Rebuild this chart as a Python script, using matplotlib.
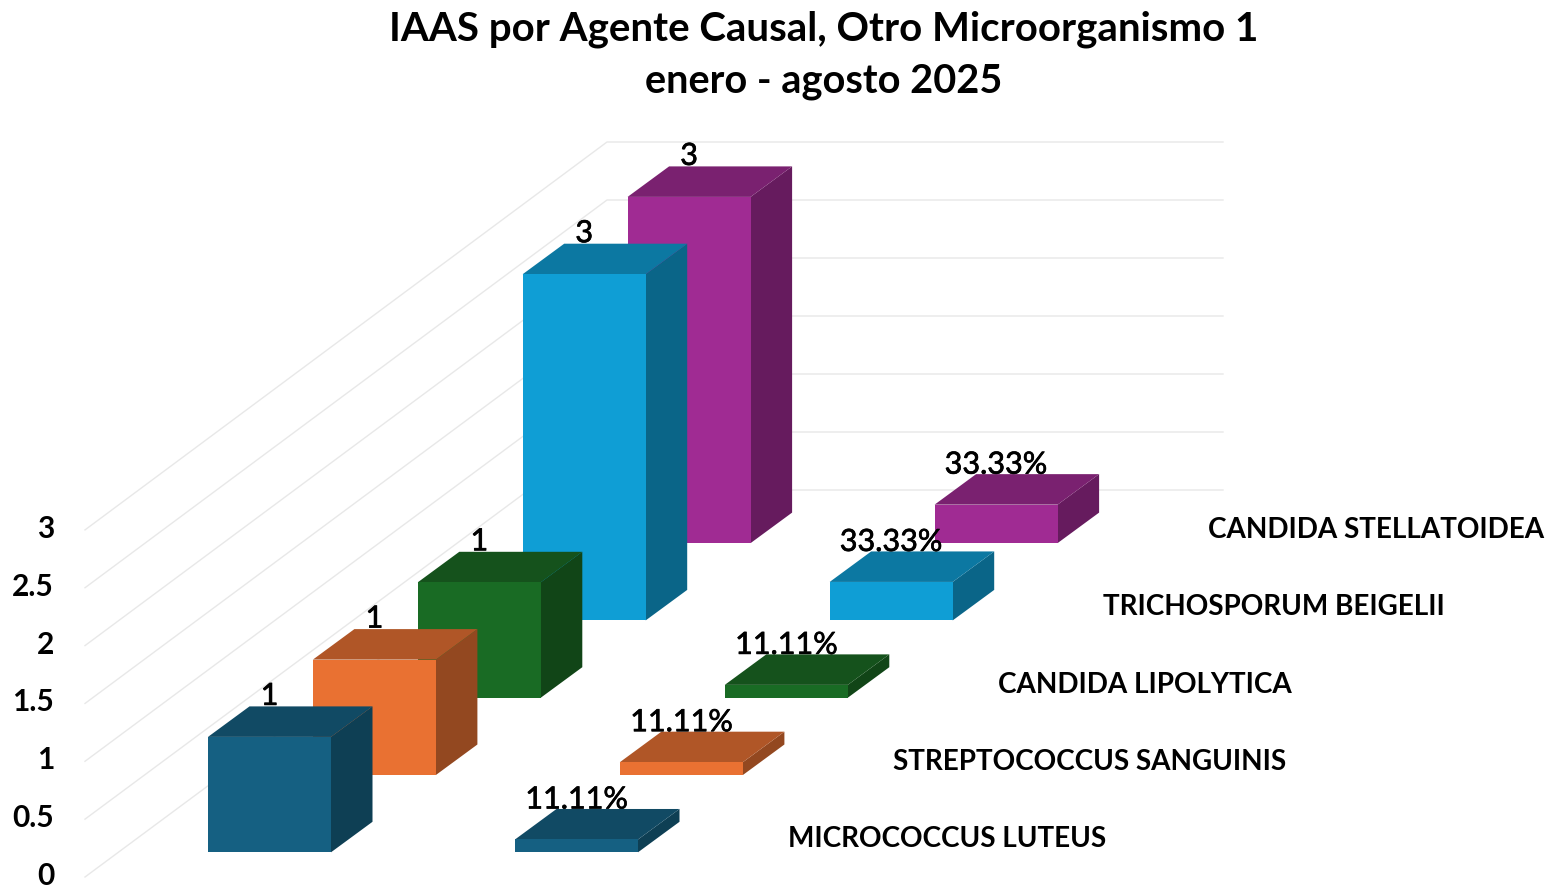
import matplotlib
matplotlib.use("Agg")
import matplotlib.pyplot as plt
from matplotlib.patches import Polygon
import matplotlib.patheffects as pe

plt.rcParams['font.family'] = ['Lato', 'DejaVu Sans']

# data
series = ["MICROCOCCUS LUTEUS", "STREPTOCOCCUS SANGUINIS", "CANDIDA LIPOLYTICA",
          "TRICHOSPORUM BEIGELII", "CANDIDA STELLATOIDEA"]
counts = [1, 1, 1, 3, 3]
shares = [11.11, 11.11, 11.11, 33.33, 33.33]
count_labels = ["1", "1", "1", "3", "3"]
share_labels = ["11.11%", "11.11%", "11.11%", "33.33%", "33.33%"]
yticks = [0, 0.5, 1, 1.5, 2, 2.5, 3]
ytick_labels = ["0", "0.5", "1", "1.5", "2", "2.5", "3"]

front = ["#156082", "#E97132", "#196B24", "#0F9ED5", "#A02B93"]
top = ["#114A64", "#B05627", "#15521C", "#0C78A2", "#7A2170"]
side = ["#0E3F54", "#934820", "#114517", "#0A6588", "#661B5E"]

# oblique projection of the excel 3d chart, in pixels
unit = 115.4
base_x, base_y = 208, 853.3
step_x, step_y = 104.9, -77.3
bar_w = 123
cat_gap = 307
dx, dy = 41.5, -30.5
thick = [pe.withStroke(linewidth=0.5, foreground="black")]


def box(ax, x0, y0, h, i):
    x1 = x0 + bar_w
    yt = y0 - h
    ax.add_patch(Polygon([(x1, y0), (x1 + dx, y0 + dy), (x1 + dx, yt + dy), (x1, yt)], fc=side[i], lw=0))
    ax.add_patch(Polygon([(x0, yt), (x0 + dx, yt + dy), (x1 + dx, yt + dy), (x1, yt)], fc=top[i], lw=0))
    ax.add_patch(Polygon([(x0, y0), (x1, y0), (x1, yt), (x0, yt)], fc=front[i], lw=0))


fig = plt.figure(figsize=(15.5, 8.87), dpi=100)
ax = fig.add_axes([0, 0, 1, 1])
ax.set_xlim(0, 1550)
ax.set_ylim(887, 0)
ax.axis("off")

# gridlines: floor/left wall then back wall
for v, lab in zip(yticks, ytick_labels):
    yl = 878 - v * 115.7
    yb = 491 - v * 116
    ax.plot([85, 607, 1223], [yl, yb, yb], color="#E8E8E8", lw=1, zorder=0, solid_joinstyle="miter")
    ax.text(54, yl - 2, lab, ha="right", va="center", fontsize=21.5, fontweight="bold", color="black")

# back to front
for i in range(4, -1, -1):
    x0 = base_x + i * step_x
    y0 = base_y + i * step_y
    box(ax, x0, y0, counts[i] * unit, i)
    box(ax, x0 + cat_gap, y0, shares[i] / 100 * unit, i)

for i in range(5):
    x0 = base_x + i * step_x
    y0 = base_y + i * step_y
    ax.text(x0 + bar_w / 2, y0 - counts[i] * unit - 32, count_labels[i], ha="center", va="baseline",
            fontsize=22, color="black", path_effects=thick)
    ax.text(x0 + cat_gap + bar_w / 2, y0 - shares[i] / 100 * unit - 31, share_labels[i], ha="center",
            va="baseline", fontsize=22, color="black", path_effects=thick)
    ax.text(x0 + 580.5, y0 - 14, series[i], ha="left", va="center", fontsize=20.05, fontweight="bold",
            color="black")

ax.text(824, 29, "IAAS por Agente Causal, Otro Microorganismo 1", ha="center", va="center",
        fontsize=29, fontweight="bold", color="black")
ax.text(824, 81, "enero - agosto 2025", ha="center", va="center", fontsize=28.6, fontweight="bold",
        color="black")

fig.savefig("out.png", dpi=100)
